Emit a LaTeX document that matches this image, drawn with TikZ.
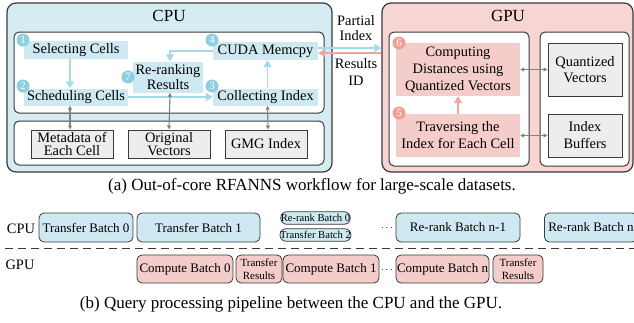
\documentclass[tikz,border=0pt]{standalone}
\usepackage{fontspec}
\setmainfont{Liberation Serif}
\usepackage{tikz}
\usetikzlibrary{arrows.meta, positioning, calc}
\definecolor{cpufill}{RGB}{214, 236, 243}
\definecolor{cpustep}{RGB}{207, 233, 242}
\definecolor{cpudot}{RGB}{143, 205, 224}
\definecolor{arrowblue}{RGB}{166, 217, 234}
\definecolor{gpufill}{RGB}{246, 213, 211}
\definecolor{gpustep}{RGB}{244, 205, 202}
\definecolor{gpudot}{RGB}{238, 159, 152}
\definecolor{arrowpink}{RGB}{240, 165, 158}
\definecolor{storefill}{RGB}{237, 237, 237}
\definecolor{edgegray}{RGB}{58, 58, 58}
\definecolor{accessgray}{RGB}{130, 130, 130}
\newcommand{\setsz}[2]{\fontsize{#1}{#2}\selectfont}

\begin{document}
\begin{tikzpicture}[x=1pt, y=-1pt,
    outerbox/.style={draw=edgegray, line width=1.2pt, rounded corners=9pt, inner sep=0pt},
    innerbox/.style={draw=edgegray, line width=1pt, fill=white, rounded corners=5pt, inner sep=0pt},
    cpustepbox/.style={fill=cpustep, inner sep=0pt, align=center, font=\setsz{14.4}{15}},
    gpustepbox/.style={fill=gpustep, inner sep=0pt, align=center, font=\setsz{14.4}{17}},
    storebox/.style={draw=edgegray, line width=1pt, fill=storefill, inner sep=0pt, align=center, font=\setsz{14.4}{13.5}},
    numdot/.style={circle, fill=#1, text=white, inner sep=0pt, minimum size=13pt, font=\setsz{11}{11}},
    flowblue/.style={draw=arrowblue, line width=1.8pt, -{Triangle[length=7pt,width=8pt]}},
    flowpink/.style={draw=arrowpink, line width=1.8pt, -{Triangle[length=7pt,width=8pt]}},
    access/.style={draw=accessgray, line width=1.1pt, {Triangle[length=4pt,width=4pt]}-{Triangle[length=4pt,width=4pt]}},
    batchbox/.style={draw=edgegray, line width=0.8pt, rounded corners=5pt, inner sep=0pt, minimum height=29pt, align=center, font=\setsz{13}{15}},
    cpubatch/.style={batchbox, fill=cpustep},
    gpubatch/.style={batchbox, fill=gpustep},
    pill/.style={draw=edgegray, line width=0.8pt, fill=cpustep, rounded corners=6pt, inner sep=0pt, minimum width=64pt, minimum height=12.5pt, font=\setsz{10.6}{11}},
    caption/.style={font=\setsz{17}{20}}
]
    \useasboundingbox (0,0) rectangle (634,322);
    \clip (0,0) rectangle (634,322);

    % CPU side
    \node[outerbox, fill=cpufill, minimum width=325pt, minimum height=169pt] (cpu) at (169.5,87.5) {};
    \node[font=\setsz{17}{20}] (cputitle) at (169,16) {CPU};
    \node[innerbox, minimum width=310pt, minimum height=81pt] (cpuwork) at (169,72.5) {};
    \node[innerbox, minimum width=310pt, minimum height=44pt] (cpumem) at (169,143) {};

    \node[cpustepbox, minimum width=104pt, minimum height=18pt] (sel) at (76,50) {Selecting Cells};
    \node[cpustepbox, minimum width=104pt, minimum height=17pt] (sched) at (76,97) {Scheduling Cells};
    \node[cpustepbox, minimum width=70pt, minimum height=31pt] (rerank) at (168,77) {Re-ranking\\Results};
    \node[cpustepbox, minimum width=105pt, minimum height=18pt] (cuda) at (265.5,51) {CUDA Memcpy};
    \node[cpustepbox, minimum width=105pt, minimum height=17pt] (collect) at (265.5,97) {Collecting Index};

    \node[numdot=cpudot] (n1) at (23,40) {1};
    \node[numdot=cpudot] (n2) at (23,86) {2};
    \node[numdot=cpudot] (n3) at (212,86) {3};
    \node[numdot=cpudot] (n4) at (212,40) {4};
    \node[numdot=cpudot] (n7) at (128,77) {7};

    \node[storebox, minimum width=82pt, minimum height=28pt] (meta) at (72,144) {Metadata of\\Each Cell};
    \node[storebox, minimum width=82pt, minimum height=28pt] (orig) at (169,144) {Original\\Vectors};
    \node[storebox, minimum width=82pt, minimum height=28pt] (gmg) at (266,144) {GMG Index};

    % CPU flow
    \draw[flowblue] ([xshift=-6pt]sel.south) -- ([xshift=-6pt]sched.north);
    \draw[flowblue] (sched.east) -- (collect.west);
    \draw[flowblue] ([xshift=2pt]collect.north) -- ([xshift=2pt]cuda.south);
    \draw[flowblue] (cuda.west) -| ([xshift=2pt]rerank.north);

    \draw[access] ([xshift=-6pt]sched.south) -- ([xshift=-2pt]meta.north);
    \draw[access] ([xshift=2pt]rerank.south) -- (orig.north);
    \draw[access] ([xshift=2pt]collect.south) -- ([xshift=2pt]gmg.north);

    % GPU side
    \node[outerbox, fill=gpufill, minimum width=251pt, minimum height=169pt] (gpu) at (507.5,87.5) {};
    \node[font=\setsz{17}{20}] (gputitle) at (508,16) {GPU};
    \node[innerbox, minimum width=140pt, minimum height=134pt] (gpuwork) at (459,99) {};
    \node[innerbox, minimum width=89pt, minimum height=134pt] (gpumem) at (584.5,99) {};

    \node[gpustepbox, minimum width=124pt, minimum height=53pt] (comp) at (458,69.5) {Computing\\Distances using\\Quantized Vectors};
    \node[gpustepbox, minimum width=124pt, minimum height=43pt] (trav) at (458,135.5) {Traversing the\\Index for Each Cell};
    \node[numdot=gpudot] (n6) at (399,43) {6};
    \node[numdot=gpudot] (n5) at (399,113) {5};

    \node[storebox, font=\setsz{14.4}{16.5}, minimum width=74pt, minimum height=53pt] (quant) at (585,69.5) {Quantized\\Vectors};
    \node[storebox, font=\setsz{14.4}{17}, minimum width=74pt, minimum height=43pt] (ibuf) at (585,135.5) {Index\\Buffers};

    \draw[flowpink] (trav.north) -- (comp.south);
    \draw[access] (comp.east) -- (quant.west);
    \draw[access] (trav.east) -- (ibuf.west);

    % Transfers between CPU and GPU
    \draw[flowblue] ([yshift=3pt]cuda.east) -- ([yshift=3pt]cuda.east -| gpu.west);
    \draw[flowpink] ([yshift=-2pt]cuda.east -| gpu.west) -- ([yshift=-2pt]cuda.east);
    \node[align=center, font=\setsz{14.4}{15}] (partial) at (356,28) {Partial\\Index};
    \node[align=center, font=\setsz{14.4}{17}] (results) at (356,72) {Results\\ID};

    \node[caption] (capa) at (312,186) {(a) Out-of-core RFANNS workflow for large-scale datasets.};

    % Pipeline
    \node[font=\setsz{14.4}{16}] (cpurow) at (21,229) {CPU};
    \node[font=\setsz{14.4}{16}] (gpurow) at (20,265) {GPU};

    \node[cpubatch, minimum width=94pt] (tb0) at (86,227.5) {Transfer Batch 0};
    \node[cpubatch, minimum width=123pt] (tb1) at (198.5,227.5) {Transfer Batch 1};
    \node[pill] (rr0) at (315.5,218) {Re-rank Batch 0};
    \node[pill] (tb2) at (315.5,235) {Transfer Batch 2};
    \node[font=\bfseries] (dotsa) at (387,228) {$\cdots$};
    \node[cpubatch, minimum width=124pt] (rrn1) at (458,227.5) {Re-rank Batch n-1};
    \node[cpubatch, minimum width=93pt, anchor=west] (rrn) at (544,227.5) {Re-rank Batch n};

    \draw[edgegray, line width=1pt, dash pattern=on 8pt off 5pt] (5,248) -- (634,248);

    \node[gpubatch, minimum width=96pt, minimum height=28pt] (cb0) at (185,269) {Compute Batch 0};
    \node[gpubatch, minimum width=46pt, minimum height=28pt, font=\setsz{11}{13}] (tra) at (259,269) {Transfer\\Results};
    \node[gpubatch, minimum width=96pt, minimum height=28pt] (cb1) at (331,269) {Compute Batch 1};
    \node (dotsb) at (387,270) {$\cdots$};
    \node[gpubatch, minimum width=93pt, minimum height=28pt] (cbn) at (442.5,269) {Compute Batch n};
    \node[gpubatch, minimum width=50pt, minimum height=28pt, font=\setsz{11}{13}] (trb) at (518,269) {Transfer\\Results};

    \node[caption] (capb) at (291,304) {(b) Query processing pipeline between the CPU and the GPU.};
\end{tikzpicture}
\end{document}
